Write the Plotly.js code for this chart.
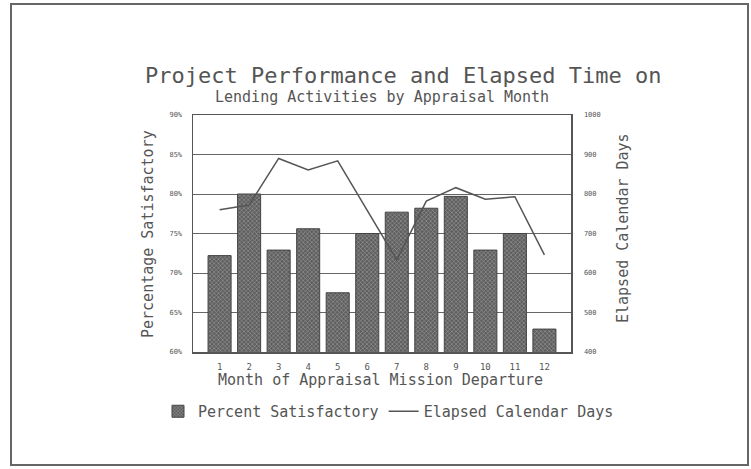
<!DOCTYPE html>
<html>
<head>
<meta charset="utf-8">
<script src="https://cdn.plot.ly/plotly-3.0.1.min.js"></script>
<style>html,body{margin:0;padding:0;background:#fff;}#chart{width:751px;height:469px;}</style>
</head>
<body>
<div id="chart"></div>
<script>
const months = [1, 2, 3, 4, 5, 6, 7, 8, 9, 10, 11, 12];
const monthLabels = ['1', '2', '3', '4', '5', '6', '7', '8', '9', '10', '11', '12'];
const pctSatisfactory = [72.2, 80.0, 72.9, 75.6, 67.5, 75.0, 77.7, 78.2, 79.7, 72.9, 75.0, 62.9];
const elapsedDays = [760, 772, 890, 861, 884, 757, 633, 782, 816, 787, 793, 646];
const pctTicks = [60, 65, 70, 75, 80, 85, 90];
const pctTickText = ['60%', '65%', '70%', '75%', '80%', '85%', '90%'];
const dayTicks = [400, 500, 600, 700, 800, 900, 1000];

const FONT = 'DejaVu Sans Mono, monospace';
const INK = '#555';

const traces = [
  {
    type: 'bar', name: 'Percent Satisfactory',
    x: months, y: pctSatisfactory, width: 0.78,
    marker: {
      color: '#5e5e5e',
      line: {color: '#444', width: 1},
      pattern: {shape: 'x', fgcolor: '#a8a8a8', bgcolor: '#5e5e5e', size: 3, solidity: 0.3}
    },
    yaxis: 'y'
  },
  {
    type: 'scatter', mode: 'lines', name: 'Elapsed Calendar Days',
    x: months, y: elapsedDays, yaxis: 'y2',
    line: {color: INK, width: 1.5}
  }
];

const px = v => (v - 193) / 378;
const py = v => (352 - v) / 237;

const layout = {
  width: 751, height: 469,
  margin: {l: 193, r: 180, t: 115, b: 117},
  paper_bgcolor: '#fff', plot_bgcolor: '#fff',
  font: {family: FONT, color: INK},
  showlegend: true,
  legend: {
    orientation: 'h', x: px(158), y: py(395), xanchor: 'left', yanchor: 'top',
    font: {family: FONT, size: 15, color: INK}, itemwidth: 30, traceorder: 'normal',
    bgcolor: 'rgba(0,0,0,0)'
  },
  bargap: 0.2,
  xaxis: {
    type: 'linear', range: [0.1, 12.9], tickvals: months, ticktext: monthLabels,
    showgrid: false, zeroline: false, showline: true, mirror: true,
    linecolor: INK, linewidth: 1.5, ticks: 'outside', ticklen: 6, tickcolor: 'rgba(0,0,0,0)',
    tickfont: {family: FONT, size: 9, color: INK}
  },
  yaxis: {
    range: [60, 90], tickvals: pctTicks, ticktext: pctTickText,
    showgrid: true, gridcolor: '#666', gridwidth: 1, zeroline: false,
    showline: true, linecolor: INK, linewidth: 1.5,
    ticks: 'outside', ticklen: 8, tickcolor: 'rgba(0,0,0,0)',
    tickfont: {family: FONT, size: 7, color: INK}
  },
  yaxis2: {
    range: [400, 1000], tickvals: dayTicks, overlaying: 'y', side: 'right',
    showgrid: false, zeroline: false, showline: true, linecolor: INK, linewidth: 1.5,
    ticks: 'outside', ticklen: 10, tickcolor: 'rgba(0,0,0,0)',
    tickfont: {family: FONT, size: 7, color: INK}
  },
  annotations: [
    {text: 'Project Performance and Elapsed Time on', xref: 'paper', yref: 'paper',
     x: px(403), y: py(75), xanchor: 'center', yanchor: 'middle', showarrow: false,
     font: {family: FONT, size: 22, color: INK}},
    {text: 'Lending Activities by Appraisal Month', xref: 'paper', yref: 'paper',
     x: px(382), y: py(97), xanchor: 'center', yanchor: 'middle', showarrow: false,
     font: {family: FONT, size: 15, color: INK}},
    {text: 'Percentage Satisfactory', xref: 'paper', yref: 'paper', textangle: -90,
     x: px(148), y: py(234), xanchor: 'center', yanchor: 'middle', showarrow: false,
     font: {family: FONT, size: 15, color: INK}},
    {text: 'Elapsed Calendar Days', xref: 'paper', yref: 'paper', textangle: -90,
     x: px(623), y: py(228), xanchor: 'center', yanchor: 'middle', showarrow: false,
     font: {family: FONT, size: 15, color: INK}},
    {text: 'Month of Appraisal Mission Departure', xref: 'paper', yref: 'paper',
     x: px(380), y: py(380), xanchor: 'center', yanchor: 'middle', showarrow: false,
     font: {family: FONT, size: 15, color: INK}}
  ],
  shapes: [
    {type: 'rect', xref: 'paper', yref: 'paper', x0: px(11), x1: px(748), y0: py(465), y1: py(4),
     line: {color: '#666', width: 2}, fillcolor: 'rgba(0,0,0,0)', layer: 'below'}
  ]
};

Plotly.newPlot('chart', traces, layout, {displayModeBar: false, staticPlot: true});
</script>
</body>
</html>
